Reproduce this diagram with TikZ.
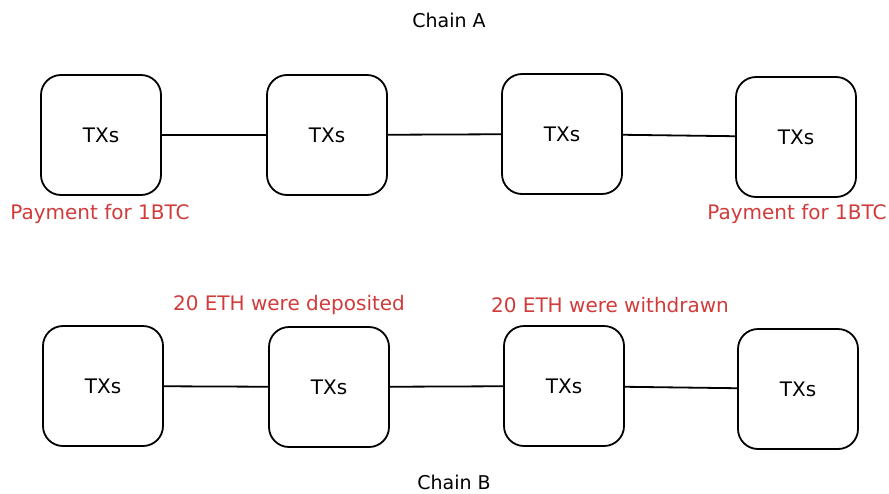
\documentclass[tikz,border=0pt]{standalone}
\usepackage{fontspec}
\setmainfont{DejaVu Sans}
\usepackage{xcolor}
\definecolor{notered}{HTML}{D03B3B}

\begin{document}
\begin{tikzpicture}[x=1pt,y=-1pt,
  txbox/.style = {draw, line width=1.8pt, rounded corners=20pt, minimum width=120pt, minimum height=120pt, font=\fontsize{20}{24}\selectfont},
  link/.style = {line width=1.8pt},
  note/.style = {text=notered, font=\fontsize{20}{24}\selectfont},
  chain/.style = {inner sep=0pt, font=\fontsize{19}{23}\selectfont}]
  \useasboundingbox (0,0) rectangle (889,493);

  \node[chain] (titleA) at (449,20) {Chain A};
  \node[chain] (titleB) at (454,482) {Chain B};

  % chain A
  \node[txbox] (a1) at (101,135) {TXs};
  \node[txbox] (a2) at (327,135) {TXs};
  \node[txbox] (a3) at (562,134) {TXs};
  \node[txbox] (a4) at (796,137) {TXs};
  \draw[link] (a1) -- (a2);
  \draw[link] (a2) -- (a3);
  \draw[link] (a3) -- (a4);

  % chain B
  \node[txbox] (b1) at (103,386) {TXs};
  \node[txbox] (b2) at (329,387) {TXs};
  \node[txbox] (b3) at (564,386) {TXs};
  \node[txbox] (b4) at (798,389) {TXs};
  \draw[link] (b1) -- (b2);
  \draw[link] (b2) -- (b3);
  \draw[link] (b3) -- (b4);

  \node[note] (payA) at (100,214) {Payment for 1BTC};
  \node[note] (payB) at (797,214) {Payment for 1BTC};
  \node[note] (dep) at (289,305) {20 ETH were deposited};
  \node[note] (wd) at (610,305) {20 ETH were withdrawn};
\end{tikzpicture}
\end{document}
